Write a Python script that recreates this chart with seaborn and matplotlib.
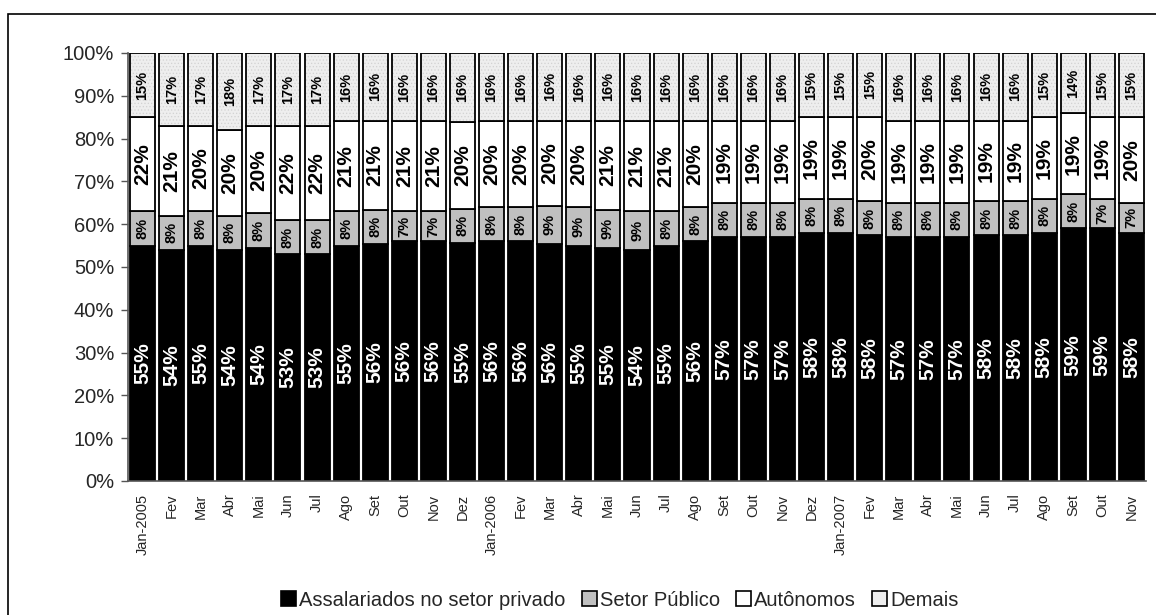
import matplotlib
matplotlib.use('Agg')
import matplotlib.pyplot as plt
from matplotlib.patches import Patch, Rectangle
import numpy as np
import pandas as pd
import seaborn as sns

# dados (percentuais)
meses = ['Jan-2005', 'Fev', 'Mar', 'Abr', 'Mai', 'Jun', 'Jul', 'Ago', 'Set', 'Out', 'Nov', 'Dez',
         'Jan-2006', 'Fev', 'Mar', 'Abr', 'Mai', 'Jun', 'Jul', 'Ago', 'Set', 'Out', 'Nov', 'Dez',
         'Jan-2007', 'Fev', 'Mar', 'Abr', 'Mai', 'Jun', 'Jul', 'Ago', 'Set', 'Out', 'Nov']
privado = [55, 54, 55, 54, 54, 53, 53, 55, 56, 56, 56, 55,
           56, 56, 56, 55, 55, 54, 55, 56, 57, 57, 57, 58,
           58, 58, 57, 57, 57, 58, 58, 58, 59, 59, 58]
publico = [8, 8, 8, 8, 8, 8, 8, 8, 8, 7, 7, 8,
           8, 8, 9, 9, 9, 9, 8, 8, 8, 8, 8, 8,
           8, 8, 8, 8, 8, 8, 8, 8, 8, 7, 7]
autonomos = [22, 21, 20, 20, 20, 22, 22, 21, 21, 21, 21, 20,
             20, 20, 20, 20, 21, 21, 21, 20, 19, 19, 19, 19,
             19, 20, 19, 19, 19, 19, 19, 19, 19, 19, 20]
demais = [15, 17, 17, 18, 17, 17, 17, 16, 16, 16, 16, 16,
          16, 16, 16, 16, 16, 16, 16, 16, 16, 16, 16, 15,
          15, 15, 16, 16, 16, 16, 16, 15, 14, 15, 15]

series = ['Assalariados no setor privado', 'Setor Público', 'Autônomos', 'Demais']
cores = ['#000000', '#c0c0c0', '#ffffff', '#eeeeee']

chaves = ['%d-%02d' % (2005 + i // 12, i % 12 + 1) for i in range(len(meses))]
df = pd.DataFrame({'mes': chaves, 'privado': privado, 'publico': publico,
                   'autonomos': autonomos, 'demais': demais})
cols = ['privado', 'publico', 'autonomos', 'demais']
total = df[cols].sum(axis=1)
for c in cols:
    df[c + '_p'] = df[c] / total

sns.set_style('white')
plt.rcParams['font.family'] = ['Liberation Sans', 'DejaVu Sans']
plt.rcParams['hatch.linewidth'] = 0.5

fig = plt.figure(figsize=(11.56, 6.15), dpi=100)
ax = fig.add_axes([128 / 1156, 1 - 481 / 615, (1146 - 128) / 1156, (481 - 53) / 615])

base = np.zeros(len(df))
for c, cor in zip(cols, cores):
    if c == 'demais':
        sns.barplot(data=df, x='mes', y=c + '_p', bottom=base, color=cor, saturation=1,
                    width=0.86, edgecolor='#d2d2d2', linewidth=0, hatch='.....',
                    errorbar=None, ax=ax)
        sns.barplot(data=df, x='mes', y=c + '_p', bottom=base, color='black', fill=False,
                    saturation=1, width=0.86, linewidth=1.3, errorbar=None, ax=ax)
    else:
        sns.barplot(data=df, x='mes', y=c + '_p', bottom=base, color=cor, saturation=1,
                    width=0.86, edgecolor='black', linewidth=1.3, errorbar=None, ax=ax)
    # rotulos dentro das barras
    for i, (v, h, b) in enumerate(zip(df[c], df[c + '_p'], base)):
        grande = c in ('privado', 'autonomos')
        ax.text(i, b + h / 2, '%d%%' % v, rotation=90, ha='center', va='center',
                fontsize=15 if grande else 10.5, fontweight='bold',
                color='white' if c == 'privado' else 'black')
    base = base + df[c + '_p'].values

ax.set_xlim(-0.5, len(df) - 0.5)
ax.set_ylim(0, 1)
ax.set_yticks(np.arange(0, 1.01, 0.1))
ax.set_yticklabels(['%d%%' % v for v in range(0, 101, 10)], fontsize=14.5)
ax.set_xticks(range(len(df)))
ax.set_xticklabels(meses, rotation=90, fontsize=10.5)
ax.set_xticks(np.arange(-0.5, len(df), 1), minor=True)
ax.tick_params(axis='x', which='major', length=0, pad=9)
ax.tick_params(axis='x', which='minor', length=5, width=1, color='#555555', direction='out')
ax.tick_params(axis='y', length=5, width=1, color='#555555', direction='out', pad=5, left=True)
ax.set_xlabel('')
ax.set_ylabel('')
for s in ['top', 'right']:
    ax.spines[s].set_visible(False)
for s in ['left', 'bottom']:
    ax.spines[s].set_color('#555555')
    ax.spines[s].set_linewidth(1.2)

handles = [Patch(facecolor=cor, edgecolor='black', linewidth=1.2) for cor in cores]
fig.legend(handles, series, loc='center', bbox_to_anchor=(620 / 1156, 1 - 600 / 615),
           ncol=4, frameon=False, fontsize=14.5, handlelength=0.75, handleheight=0.75,
           handletextpad=0.15, columnspacing=0.8, borderaxespad=0)

# moldura da area do grafico
fig.patches.append(Rectangle((8 / 1156, -0.1), 1.2, 1.1 - 14 / 615, transform=fig.transFigure,
                             fill=False, edgecolor='black', linewidth=1.2))

fig.savefig('out.png', dpi=100)
